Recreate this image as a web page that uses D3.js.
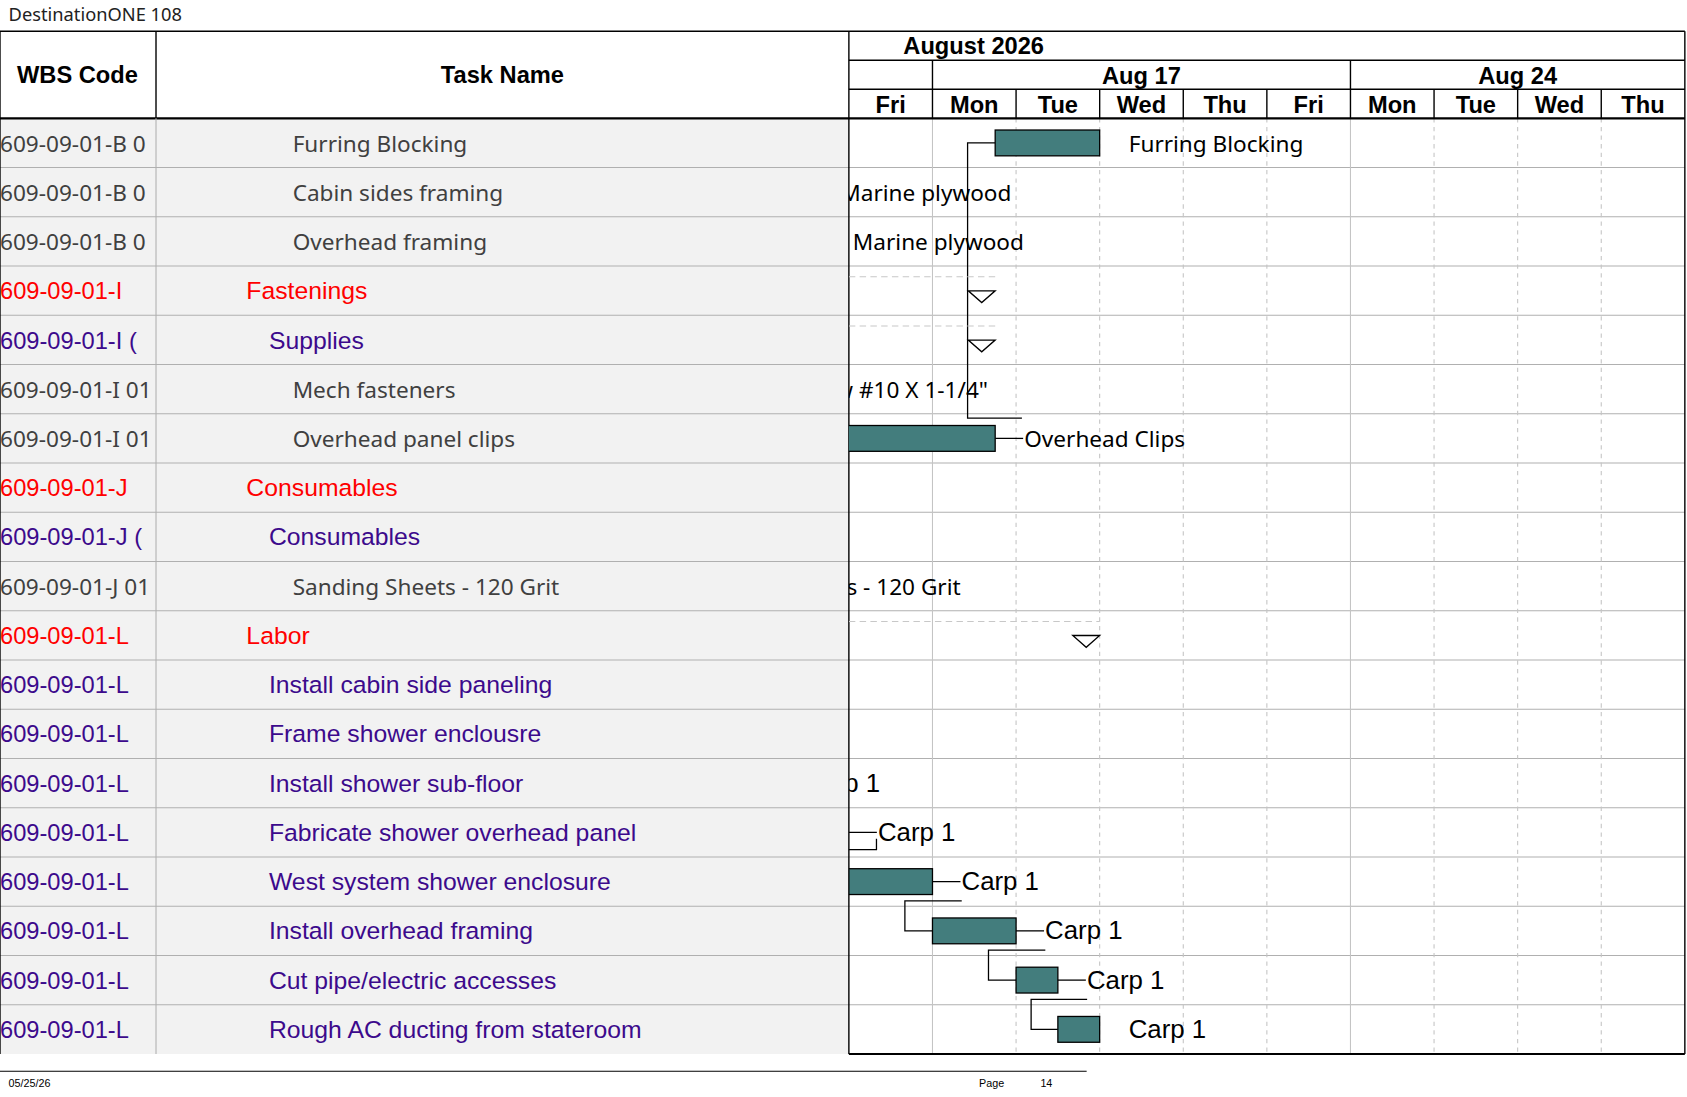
<!DOCTYPE html>
<html>
<head>
<meta charset="UTF-8">
<title>DestinationONE 108</title>
<script src="https://cdn.jsdelivr.net/npm/d3@7"></script>
<style>body{margin:0;background:#fff}</style>
</head>
<body>
<div id="gantt"></div>
<script>
// working days shown on the timeline
const days = ["Fri","Mon","Tue","Wed","Thu","Fri","Mon","Tue","Wed","Thu"];
const weeks = [{label:"Aug 17", from:1, to:6}, {label:"Aug 24", from:6, to:10}];
const month = "August 2026";

const wbs = ["609-09-01-B 0","609-09-01-B 0","609-09-01-B 0","609-09-01-I","609-09-01-I (","609-09-01-I 01","609-09-01-I 01",
  "609-09-01-J","609-09-01-J (","609-09-01-J 01","609-09-01-L","609-09-01-L","609-09-01-L","609-09-01-L","609-09-01-L",
  "609-09-01-L","609-09-01-L","609-09-01-L","609-09-01-L"];
const tasks = ["Furring Blocking","Cabin sides framing","Overhead framing","Fastenings","Supplies","Mech fasteners",
  "Overhead panel clips","Consumables","Consumables","Sanding Sheets - 120 Grit","Labor","Install cabin side paneling",
  "Frame shower enclousre","Install shower sub-floor","Fabricate shower overhead panel","West system shower enclosure",
  "Install overhead framing","Cut pipe/electric accesses","Rough AC ducting from stateroom"];
// 3 = resource item, 1 = summary, 2 = sub summary / labor task
const levels = [3,3,3,1,2,3,3,1,2,3,1,2,2,2,2,2,2,2,2];
// start / end in working-day index (0 = Fri Aug 14); null = nothing drawn
const starts = [1.75,null,null,null,null,null,-1.5,null,null,null,null,null,null,null,null,0,1,2,2.5];
const ends   = [3.0,-0.45,-0.3,1.75,1.75,-1.04,1.75,null,null,-2.2,3.0,null,null,-0.9,0,1,2,2.5,3.0];
const summary = [false,false,false,true,true,false,false,false,false,false,true,false,false,false,false,false,false,false,false];
const barLabels = ["Furring Blocking","Marine plywood","Marine plywood","","","Screw #10 X 1-1/4\"","Overhead Clips","","",
  "Sanding Sheets - 120 Grit","","","","Carp 1","Carp 1","Carp 1","Carp 1","Carp 1","Carp 1"];
const connector = [false,false,false,false,false,false,true,false,false,false,false,false,false,false,true,true,true,true,false];

const W = 1568, H = 1020;
const colWbs = 145, colChart = 789, chartR = 1566;
const topY = 29, headH = 110, bottomY = 980;

const svg = d3.select("#gantt").append("svg")
  .attr("width", 1687).attr("height", 1097)
  .attr("viewBox", `0 0 ${W} ${H}`)
  .attr("preserveAspectRatio", "none");

const x = d3.scaleLinear().domain([0, days.length]).range([colChart, chartR]);
const y = d3.scaleBand().domain(d3.range(tasks.length)).range([headH, bottomY]);

const colors = {1:"#ff0000", 2:"#3c0a8c", 3:"#404040"};
const cal = "'Noto Sans', 'Open Sans', sans-serif";
const arial = "'Liberation Sans', Arial, sans-serif";

svg.append("defs").append("clipPath").attr("id","chartClip")
  .append("rect").attr("x", colChart).attr("y", headH).attr("width", chartR - colChart).attr("height", bottomY - headH);
svg.select("defs").append("clipPath").attr("id","wbsClip")
  .append("rect").attr("x", 0).attr("y", headH).attr("width", colWbs).attr("height", bottomY - headH);

svg.append("text").attr("x", 8).attr("y", 20).attr("font-family", cal).attr("font-size", 17)
  .attr("fill", "#222").text("DestinationONE 108");

// table background
svg.append("rect").attr("x", 0).attr("y", headH).attr("width", colChart).attr("height", bottomY - headH).attr("fill", "#f2f2f2");

// row lines
svg.append("g").selectAll("line").data(d3.range(1, tasks.length)).join("line")
  .attr("x1", 0).attr("x2", chartR).attr("y1", i => y(i)).attr("y2", i => y(i))
  .attr("stroke", "#b0b0b0").attr("stroke-width", 1);

// day grid
svg.append("g").selectAll("line").data(d3.range(1, days.length)).join("line")
  .attr("x1", i => x(i)).attr("x2", i => x(i)).attr("y1", headH).attr("y2", bottomY)
  .attr("stroke", "#c4c4c4").attr("stroke-dasharray", i => days[i] === "Mon" ? null : "4,4");

// headers
const hdr = svg.append("g").attr("font-family", arial).attr("font-weight", "bold").attr("fill", "#000");
hdr.append("text").attr("x", 72).attr("y", 77).attr("text-anchor", "middle").attr("font-size", 22).text("WBS Code");
hdr.append("text").attr("x", (colWbs + colChart) / 2).attr("y", 77).attr("text-anchor", "middle").attr("font-size", 22).text("Task Name");
hdr.append("text").attr("x", 905).attr("y", 50).attr("text-anchor", "middle").attr("font-size", 22).text(month);
hdr.selectAll(".wk").data(weeks).join("text").attr("class", "wk")
  .attr("x", d => (x(d.from) + x(d.to)) / 2).attr("y", 78).attr("text-anchor", "middle").attr("font-size", 22).text(d => d.label);
hdr.selectAll(".dy").data(days).join("text").attr("class", "dy")
  .attr("x", (d, i) => x(i + 0.5)).attr("y", 105).attr("text-anchor", "middle").attr("font-size", 22).text(d => d);

const hl = svg.append("g").attr("stroke", "#000").attr("stroke-width", 1.3);
hl.append("line").attr("x1", 0).attr("x2", chartR).attr("y1", topY).attr("y2", topY);
hl.append("line").attr("x1", 0).attr("x2", chartR).attr("y1", headH).attr("y2", headH).attr("stroke-width", 2);
hl.append("line").attr("x1", colChart).attr("x2", chartR).attr("y1", 56).attr("y2", 56);
hl.append("line").attr("x1", colChart).attr("x2", chartR).attr("y1", 83).attr("y2", 83);
hl.append("line").attr("x1", colWbs).attr("x2", colWbs).attr("y1", topY).attr("y2", headH);
hl.append("line").attr("x1", colChart).attr("x2", colChart).attr("y1", topY).attr("y2", bottomY);
hl.append("line").attr("x1", chartR).attr("x2", chartR).attr("y1", topY).attr("y2", bottomY);
hl.append("line").attr("x1", 0).attr("x2", 0).attr("y1", topY).attr("y2", bottomY);
hl.append("line").attr("x1", colChart).attr("x2", chartR).attr("y1", bottomY).attr("y2", bottomY).attr("stroke-width", 2);
hl.selectAll(".wl").data([1, 6]).join("line").attr("class", "wl")
  .attr("x1", d => x(d)).attr("x2", d => x(d)).attr("y1", 56).attr("y2", headH);
hl.selectAll(".dl").data(d3.range(2, days.length).filter(i => i !== 6)).join("line").attr("class", "dl")
  .attr("x1", d => x(d)).attr("x2", d => x(d)).attr("y1", 83).attr("y2", headH);
svg.append("line").attr("x1", colWbs).attr("x2", colWbs).attr("y1", headH).attr("y2", bottomY).attr("stroke", "#b0b0b0");

// table text
const rows = svg.append("g");
rows.append("g").attr("clip-path", "url(#wbsClip)").selectAll("text").data(wbs).join("text")
  .attr("x", 0).attr("y", (d, i) => y(i) + y.bandwidth() / 2 + 8)
  .attr("font-family", (d, i) => levels[i] === 3 ? cal : arial)
  .attr("font-size", (d, i) => levels[i] === 3 ? 21 : 22)
  .attr("fill", (d, i) => colors[levels[i]])
  .text(d => d);
rows.append("g").selectAll("text").data(tasks).join("text")
  .attr("x", (d, i) => ({1: 229, 2: 250, 3: 272})[levels[i]])
  .attr("y", (d, i) => y(i) + y.bandwidth() / 2 + 8)
  .attr("font-family", (d, i) => levels[i] === 3 ? cal : arial)
  .attr("font-size", (d, i) => levels[i] === 3 ? 21 : 23)
  .attr("fill", (d, i) => colors[levels[i]])
  .text(d => d);

// chart marks
const g = svg.append("g").attr("clip-path", "url(#chartClip)");
const cy = i => y(i) + y.bandwidth() / 2;

// predecessor links
const links = [
  [[x(1.75), cy(0)], [x(1.42), cy(0)], [x(1.42), y(6) + 4], [x(2.07), y(6) + 4]],
  [[x(0.33), cy(14) + 6], [x(0.33), cy(14) + 16], [x(-0.1), cy(14) + 16]],
  [[x(1.35), cy(15) + 18], [x(0.67), cy(15) + 18], [x(0.67), cy(16)], [x(1), cy(16)]],
  [[x(2.35), cy(16) + 18], [x(1.67), cy(16) + 18], [x(1.67), cy(17)], [x(2), cy(17)]],
  [[x(2.85), cy(17) + 18], [x(2.18), cy(17) + 18], [x(2.18), cy(18)], [x(2.5), cy(18)]]
];
g.selectAll(".lk").data(links).join("path").attr("class", "lk")
  .attr("d", d => d3.line()(d)).attr("fill", "none").attr("stroke", "#000").attr("stroke-width", 1.2);

const idx = d3.range(tasks.length);
g.selectAll(".bar").data(idx.filter(i => starts[i] !== null && !summary[i])).join("rect").attr("class", "bar")
  .attr("x", i => x(starts[i])).attr("width", i => x(ends[i]) - x(starts[i]))
  .attr("y", i => cy(i) - 12).attr("height", 24)
  .attr("fill", "#437d7d").attr("stroke", "#000").attr("stroke-width", 1.2);

// summary markers
const sm = idx.filter(i => summary[i]);
g.selectAll(".sl").data(sm).join("line").attr("class", "sl")
  .attr("x1", colChart).attr("x2", i => x(ends[i])).attr("y1", i => y(i) + 10).attr("y2", i => y(i) + 10)
  .attr("stroke", "#c8c8c8").attr("stroke-dasharray", "6,4");
g.selectAll(".tri").data(sm).join("path").attr("class", "tri")
  .attr("d", i => { const r = x(ends[i]); const t = y(i) + 23; return `M${r - 25},${t}H${r}L${r - 12.5},${t + 11}Z`; })
  .attr("fill", "#fff").attr("stroke", "#000").attr("stroke-width", 1.2);

// bar labels
const lb = idx.filter(i => barLabels[i] !== "");
g.selectAll(".cn").data(lb.filter(i => connector[i])).join("line").attr("class", "cn")
  .attr("x1", i => x(ends[i])).attr("x2", i => x(ends[i]) + 26).attr("y1", cy).attr("y2", cy)
  .attr("stroke", "#000").attr("stroke-width", 1.2);
g.selectAll(".bl").data(lb).join("text").attr("class", "bl")
  .attr("x", i => x(ends[i]) + 27).attr("y", i => cy(i) + 8)
  .attr("font-family", i => barLabels[i] === "Carp 1" ? arial : cal)
  .attr("font-size", i => barLabels[i] === "Carp 1" ? 24 : 21)
  .attr("fill", "#000").text(i => barLabels[i]);

// footer
svg.append("line").attr("x1", 0).attr("x2", 1010).attr("y1", 996).attr("y2", 996).attr("stroke", "#000");
const ft = svg.append("g").attr("font-family", arial).attr("font-size", 10).attr("fill", "#000");
ft.append("text").attr("x", 8).attr("y", 1011).text("05/25/26");
ft.append("text").attr("x", 910).attr("y", 1011).text("Page");
ft.append("text").attr("x", 967).attr("y", 1011).text("14");
</script>
</body>
</html>
